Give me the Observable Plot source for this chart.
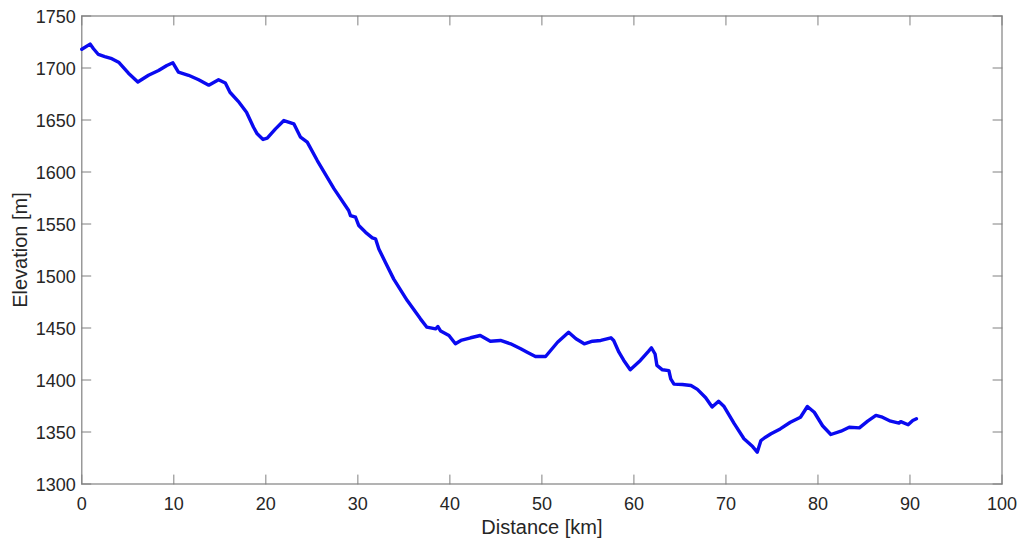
<!DOCTYPE html>
<html>
<head>
<meta charset="utf-8">
<script src="https://cdn.jsdelivr.net/npm/d3@7"></script>
<script src="https://cdn.jsdelivr.net/npm/@observablehq/plot@0.6"></script>
<style>
  html, body { margin: 0; padding: 0; background: #fff; }
</style>
</head>
<body>
<div id="chart"></div>
<script>
// Elevation profile along the route
const distanceKm = [0, 0.9, 1.27, 1.8, 2.5, 3.26, 4.0, 5.07, 6.09, 7.25, 8.34, 9.24, 9.9, 10.5, 11.6, 12.7, 13.8, 14.86, 15.6, 16.1, 17.0, 17.9, 18.66, 19.06, 19.7, 20.15, 21.05, 21.96, 23.04, 23.77, 24.5, 25.59, 27.4, 29.0, 29.2, 29.75, 30.1, 30.84, 31.57, 31.92, 32.28, 33.0, 33.9, 35.37, 36.8, 37.5, 38.45, 38.7, 39.0, 39.9, 40.6, 41.2, 42.25, 43.3, 44.4, 45.5, 46.6, 47.7, 48.4, 49.3, 50.4, 51.7, 52.9, 53.7, 54.6, 55.5, 56.4, 57.5, 57.8, 58.37, 58.9, 59.6, 60.7, 61.6, 61.9, 62.3, 62.5, 63.1, 63.8, 64.0, 64.35, 65.26, 66.2, 66.9, 67.8, 68.5, 69.2, 69.8, 70.9, 71.96, 72.9, 73.4, 73.8, 74.3, 74.9, 75.9, 77.0, 78.1, 78.85, 79.6, 80.5, 81.4, 82.5, 83.4, 84.5, 85.4, 86.3, 87.0, 87.9, 88.8, 89.0, 89.8, 90.3, 90.7];
const elevationM = [1718, 1723, 1718.5, 1713, 1711, 1709, 1705.6, 1695, 1686.5, 1693, 1697.6, 1702.4, 1705, 1696, 1693, 1688.7, 1683.5, 1688.7, 1685.5, 1676.7, 1668, 1657.5, 1643, 1636.7, 1631.3, 1632.5, 1641.5, 1649.5, 1646.3, 1633.5, 1628.7, 1611, 1584, 1563, 1558, 1556.5, 1548.5, 1542, 1536.7, 1535.8, 1526, 1513, 1497, 1476.4, 1458.8, 1450.8, 1449.2, 1451.4, 1447, 1442.8, 1434.8, 1438, 1440.6, 1442.8, 1437.3, 1438, 1434.8, 1430, 1426.7, 1422.6, 1422.6, 1436.3, 1446, 1439.6, 1434.8, 1437.3, 1438, 1440.6, 1438, 1426.7, 1418.8, 1409.8, 1418.8, 1427.8, 1431, 1425, 1414, 1409.8, 1409, 1401, 1396, 1395.7, 1394.7, 1391, 1383, 1374, 1379.6, 1374.5, 1358, 1343.5, 1336, 1330.6, 1341.8, 1345, 1348.3, 1353, 1359.4, 1364.2, 1374.5, 1369, 1356, 1347.6, 1350.8, 1354.6, 1354, 1360.4, 1365.9, 1364.2, 1360.4, 1358.5, 1360, 1357, 1361, 1362.7];

const xTicks = [0, 10, 20, 30, 40, 50, 60, 70, 80, 90, 100];
const yTicks = [1300, 1350, 1400, 1450, 1500, 1550, 1600, 1650, 1700, 1750];
const xDomain = [0, 100];
const yDomain = [1300, 1750];

const profile = distanceKm.map((d, i) => ({distance: d, elevation: elevationM[i]}));

const axisGray = "#808080";
const textGray = "#262626";
const tickLen = 9;

// short straight stroke used for inward-pointing box ticks
const tickShape = {
  draw(context, l) {
    context.moveTo(0, 0);
    context.lineTo(0, -l);
  }
};

const boxTick = (data, opts) => Plot.vector(data, {
  length: tickLen, anchor: "start", shape: tickShape,
  stroke: axisGray, strokeWidth: 1, ...opts
});

const chart = Plot.plot({
  width: 1019,
  height: 540,
  marginLeft: 81.3,
  marginRight: 17.5,
  marginTop: 15.5,
  marginBottom: 56.5,
  style: {background: "white", fontFamily: "'Liberation Sans', Arial, sans-serif", color: textGray},
  x: {domain: xDomain},
  y: {domain: yDomain},
  marks: [
    Plot.frame({stroke: axisGray, strokeWidth: 1.2}),
    boxTick(xTicks, {x: d => d, y: yDomain[0], rotate: 0}),
    boxTick(xTicks, {x: d => d, y: yDomain[1], rotate: 180}),
    boxTick(yTicks, {y: d => d, x: xDomain[0], rotate: 90}),
    boxTick(yTicks, {y: d => d, x: xDomain[1], rotate: -90}),
    Plot.axisX(xTicks, {tickSize: 0, tickPadding: 13, fontSize: 18, fill: textGray, tickFormat: d => String(d), label: null}),
    Plot.axisY(yTicks, {tickSize: 0, tickPadding: 6, fontSize: 18, fill: textGray, dy: 1.5, tickFormat: d => String(d), label: null}),
    Plot.line(profile, {x: "distance", y: "elevation", stroke: "#0a0af0", strokeWidth: 3.4, strokeLinejoin: "round"}),
    Plot.text(["Distance [km]"], {text: d => d, frameAnchor: "bottom", lineAnchor: "middle", textAnchor: "middle", dy: 43.5, fontSize: 20, fill: textGray}),
    Plot.text(["Elevation [m]"], {text: d => d, frameAnchor: "left", lineAnchor: "middle", textAnchor: "middle", dx: -61, rotate: -90, fontSize: 20, fill: textGray})
  ]
});

document.getElementById("chart").appendChild(chart);
</script>
</body>
</html>
